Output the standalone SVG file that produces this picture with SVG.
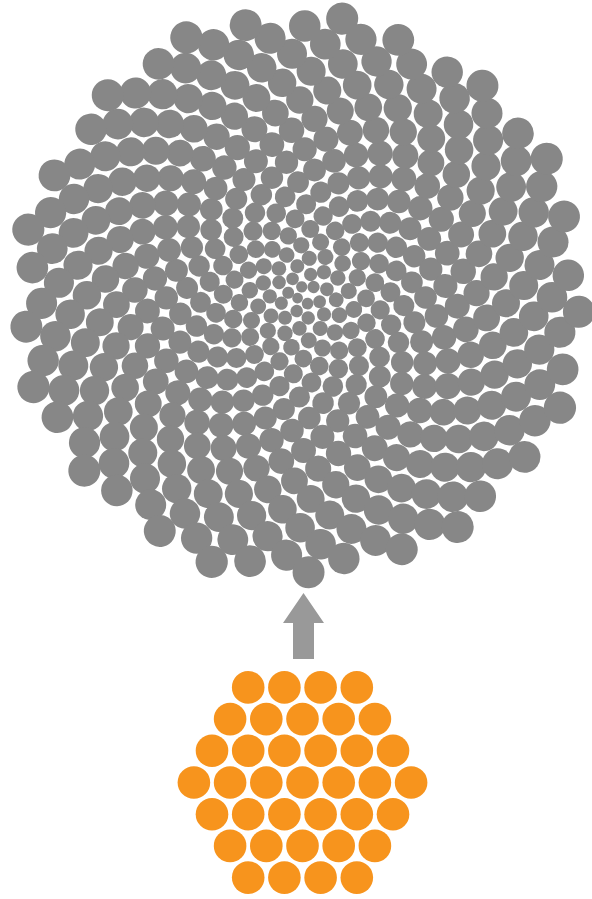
<svg xmlns="http://www.w3.org/2000/svg" width="592" height="899" viewBox="0 0 592 899">
<style>
#spiral circle{fill:#878787;r:calc((5.0 + 0.53 * sqrt(var(--n) - 0.5)) * 1px);transform:rotate(calc(var(--n) * 137.508deg)) translateX(calc((6.3 * sqrt(var(--n) - 0.5) + 0.342 * (var(--n) - 0.5)) * 1px));}
#hexbundle circle{fill:#F7941D;}
.arrow{fill:#999;}
</style>
<rect width="592" height="899" fill="#fff"/>
<g id="spiral" transform="translate(301 295)">
<circle style="--n:1"/><circle style="--n:2"/><circle style="--n:3"/><circle style="--n:4"/><circle style="--n:5"/><circle style="--n:6"/><circle style="--n:7"/><circle style="--n:8"/><circle style="--n:9"/><circle style="--n:10"/>
<circle style="--n:11"/><circle style="--n:12"/><circle style="--n:13"/><circle style="--n:14"/><circle style="--n:15"/><circle style="--n:16"/><circle style="--n:17"/><circle style="--n:18"/><circle style="--n:19"/><circle style="--n:20"/>
<circle style="--n:21"/><circle style="--n:22"/><circle style="--n:23"/><circle style="--n:24"/><circle style="--n:25"/><circle style="--n:26"/><circle style="--n:27"/><circle style="--n:28"/><circle style="--n:29"/><circle style="--n:30"/>
<circle style="--n:31"/><circle style="--n:32"/><circle style="--n:33"/><circle style="--n:34"/><circle style="--n:35"/><circle style="--n:36"/><circle style="--n:37"/><circle style="--n:38"/><circle style="--n:39"/><circle style="--n:40"/>
<circle style="--n:41"/><circle style="--n:42"/><circle style="--n:43"/><circle style="--n:44"/><circle style="--n:45"/><circle style="--n:46"/><circle style="--n:47"/><circle style="--n:48"/><circle style="--n:49"/><circle style="--n:50"/>
<circle style="--n:51"/><circle style="--n:52"/><circle style="--n:53"/><circle style="--n:54"/><circle style="--n:55"/><circle style="--n:56"/><circle style="--n:57"/><circle style="--n:58"/><circle style="--n:59"/><circle style="--n:60"/>
<circle style="--n:61"/><circle style="--n:62"/><circle style="--n:63"/><circle style="--n:64"/><circle style="--n:65"/><circle style="--n:66"/><circle style="--n:67"/><circle style="--n:68"/><circle style="--n:69"/><circle style="--n:70"/>
<circle style="--n:71"/><circle style="--n:72"/><circle style="--n:73"/><circle style="--n:74"/><circle style="--n:75"/><circle style="--n:76"/><circle style="--n:77"/><circle style="--n:78"/><circle style="--n:79"/><circle style="--n:80"/>
<circle style="--n:81"/><circle style="--n:82"/><circle style="--n:83"/><circle style="--n:84"/><circle style="--n:85"/><circle style="--n:86"/><circle style="--n:87"/><circle style="--n:88"/><circle style="--n:89"/><circle style="--n:90"/>
<circle style="--n:91"/><circle style="--n:92"/><circle style="--n:93"/><circle style="--n:94"/><circle style="--n:95"/><circle style="--n:96"/><circle style="--n:97"/><circle style="--n:98"/><circle style="--n:99"/><circle style="--n:100"/>
<circle style="--n:101"/><circle style="--n:102"/><circle style="--n:103"/><circle style="--n:104"/><circle style="--n:105"/><circle style="--n:106"/><circle style="--n:107"/><circle style="--n:108"/><circle style="--n:109"/><circle style="--n:110"/>
<circle style="--n:111"/><circle style="--n:112"/><circle style="--n:113"/><circle style="--n:114"/><circle style="--n:115"/><circle style="--n:116"/><circle style="--n:117"/><circle style="--n:118"/><circle style="--n:119"/><circle style="--n:120"/>
<circle style="--n:121"/><circle style="--n:122"/><circle style="--n:123"/><circle style="--n:124"/><circle style="--n:125"/><circle style="--n:126"/><circle style="--n:127"/><circle style="--n:128"/><circle style="--n:129"/><circle style="--n:130"/>
<circle style="--n:131"/><circle style="--n:132"/><circle style="--n:133"/><circle style="--n:134"/><circle style="--n:135"/><circle style="--n:136"/><circle style="--n:137"/><circle style="--n:138"/><circle style="--n:139"/><circle style="--n:140"/>
<circle style="--n:141"/><circle style="--n:142"/><circle style="--n:143"/><circle style="--n:144"/><circle style="--n:145"/><circle style="--n:146"/><circle style="--n:147"/><circle style="--n:148"/><circle style="--n:149"/><circle style="--n:150"/>
<circle style="--n:151"/><circle style="--n:152"/><circle style="--n:153"/><circle style="--n:154"/><circle style="--n:155"/><circle style="--n:156"/><circle style="--n:157"/><circle style="--n:158"/><circle style="--n:159"/><circle style="--n:160"/>
<circle style="--n:161"/><circle style="--n:162"/><circle style="--n:163"/><circle style="--n:164"/><circle style="--n:165"/><circle style="--n:166"/><circle style="--n:167"/><circle style="--n:168"/><circle style="--n:169"/><circle style="--n:170"/>
<circle style="--n:171"/><circle style="--n:172"/><circle style="--n:173"/><circle style="--n:174"/><circle style="--n:175"/><circle style="--n:176"/><circle style="--n:177"/><circle style="--n:178"/><circle style="--n:179"/><circle style="--n:180"/>
<circle style="--n:181"/><circle style="--n:182"/><circle style="--n:183"/><circle style="--n:184"/><circle style="--n:185"/><circle style="--n:186"/><circle style="--n:187"/><circle style="--n:188"/><circle style="--n:189"/><circle style="--n:190"/>
<circle style="--n:191"/><circle style="--n:192"/><circle style="--n:193"/><circle style="--n:194"/><circle style="--n:195"/><circle style="--n:196"/><circle style="--n:197"/><circle style="--n:198"/><circle style="--n:199"/><circle style="--n:200"/>
<circle style="--n:201"/><circle style="--n:202"/><circle style="--n:203"/><circle style="--n:204"/><circle style="--n:205"/><circle style="--n:206"/><circle style="--n:207"/><circle style="--n:208"/><circle style="--n:209"/><circle style="--n:210"/>
<circle style="--n:211"/><circle style="--n:212"/><circle style="--n:213"/><circle style="--n:214"/><circle style="--n:215"/><circle style="--n:216"/><circle style="--n:217"/><circle style="--n:218"/><circle style="--n:219"/><circle style="--n:220"/>
<circle style="--n:221"/><circle style="--n:222"/><circle style="--n:223"/><circle style="--n:224"/><circle style="--n:225"/><circle style="--n:226"/><circle style="--n:227"/><circle style="--n:228"/><circle style="--n:229"/><circle style="--n:230"/>
<circle style="--n:231"/><circle style="--n:232"/><circle style="--n:233"/><circle style="--n:234"/><circle style="--n:235"/><circle style="--n:236"/><circle style="--n:237"/><circle style="--n:238"/><circle style="--n:239"/><circle style="--n:240"/>
<circle style="--n:241"/><circle style="--n:242"/><circle style="--n:243"/><circle style="--n:244"/><circle style="--n:245"/><circle style="--n:246"/><circle style="--n:247"/><circle style="--n:248"/><circle style="--n:249"/><circle style="--n:250"/>
<circle style="--n:251"/><circle style="--n:252"/><circle style="--n:253"/><circle style="--n:254"/><circle style="--n:255"/><circle style="--n:256"/><circle style="--n:257"/><circle style="--n:258"/><circle style="--n:259"/><circle style="--n:260"/>
<circle style="--n:261"/><circle style="--n:262"/><circle style="--n:263"/><circle style="--n:264"/><circle style="--n:265"/><circle style="--n:266"/><circle style="--n:267"/><circle style="--n:268"/><circle style="--n:269"/><circle style="--n:270"/>
<circle style="--n:271"/><circle style="--n:272"/><circle style="--n:273"/><circle style="--n:274"/><circle style="--n:275"/><circle style="--n:276"/><circle style="--n:277"/><circle style="--n:278"/><circle style="--n:279"/><circle style="--n:280"/>
<circle style="--n:281"/><circle style="--n:282"/><circle style="--n:283"/><circle style="--n:284"/><circle style="--n:285"/><circle style="--n:286"/><circle style="--n:287"/><circle style="--n:288"/><circle style="--n:289"/><circle style="--n:290"/>
<circle style="--n:291"/><circle style="--n:292"/><circle style="--n:293"/><circle style="--n:294"/><circle style="--n:295"/><circle style="--n:296"/><circle style="--n:297"/><circle style="--n:298"/><circle style="--n:299"/><circle style="--n:300"/>
<circle style="--n:301"/><circle style="--n:302"/><circle style="--n:303"/><circle style="--n:304"/><circle style="--n:305"/><circle style="--n:306"/><circle style="--n:307"/><circle style="--n:308"/><circle style="--n:309"/><circle style="--n:310"/>
<circle style="--n:311"/><circle style="--n:312"/><circle style="--n:313"/><circle style="--n:314"/><circle style="--n:315"/><circle style="--n:316"/><circle style="--n:317"/><circle style="--n:318"/><circle style="--n:319"/><circle style="--n:320"/>
<circle style="--n:321"/><circle style="--n:322"/><circle style="--n:323"/><circle style="--n:324"/><circle style="--n:325"/><circle style="--n:326"/><circle style="--n:327"/><circle style="--n:328"/><circle style="--n:329"/><circle style="--n:330"/>
<circle style="--n:331"/><circle style="--n:332"/><circle style="--n:333"/><circle style="--n:334"/><circle style="--n:335"/><circle style="--n:336"/><circle style="--n:337"/><circle style="--n:338"/><circle style="--n:339"/><circle style="--n:340"/>
<circle style="--n:341"/><circle style="--n:342"/><circle style="--n:343"/><circle style="--n:344"/><circle style="--n:345"/><circle style="--n:346"/><circle style="--n:347"/><circle style="--n:348"/><circle style="--n:349"/><circle style="--n:350"/>
<circle style="--n:351"/><circle style="--n:352"/><circle style="--n:353"/><circle style="--n:354"/><circle style="--n:355"/><circle style="--n:356"/><circle style="--n:357"/><circle style="--n:358"/><circle style="--n:359"/><circle style="--n:360"/>
<circle style="--n:361"/><circle style="--n:362"/><circle style="--n:363"/><circle style="--n:364"/><circle style="--n:365"/><circle style="--n:366"/><circle style="--n:367"/><circle style="--n:368"/><circle style="--n:369"/><circle style="--n:370"/>
<circle style="--n:371"/><circle style="--n:372"/><circle style="--n:373"/><circle style="--n:374"/><circle style="--n:375"/><circle style="--n:376"/><circle style="--n:377"/><circle style="--n:378"/><circle style="--n:379"/><circle style="--n:380"/>
<circle style="--n:381"/><circle style="--n:382"/><circle style="--n:383"/><circle style="--n:384"/><circle style="--n:385"/><circle style="--n:386"/><circle style="--n:387"/><circle style="--n:388"/><circle style="--n:389"/><circle style="--n:390"/>
<circle style="--n:391"/><circle style="--n:392"/><circle style="--n:393"/><circle style="--n:394"/><circle style="--n:395"/><circle style="--n:396"/><circle style="--n:397"/><circle style="--n:398"/><circle style="--n:399"/><circle style="--n:400"/>
<circle style="--n:401"/><circle style="--n:402"/><circle style="--n:403"/><circle style="--n:404"/><circle style="--n:405"/><circle style="--n:406"/><circle style="--n:407"/><circle style="--n:408"/><circle style="--n:409"/><circle style="--n:410"/>
<circle style="--n:411"/><circle style="--n:412"/><circle style="--n:413"/><circle style="--n:414"/><circle style="--n:415"/><circle style="--n:416"/><circle style="--n:417"/><circle style="--n:418"/><circle style="--n:419"/><circle style="--n:420"/>
<circle style="--n:421"/><circle style="--n:422"/><circle style="--n:423"/><circle style="--n:424"/><circle style="--n:425"/><circle style="--n:426"/><circle style="--n:427"/><circle style="--n:428"/><circle style="--n:429"/><circle style="--n:430"/>
<circle style="--n:431"/><circle style="--n:432"/><circle style="--n:433"/><circle style="--n:434"/><circle style="--n:435"/><circle style="--n:436"/><circle style="--n:437"/><circle style="--n:438"/><circle style="--n:439"/><circle style="--n:440"/>
<circle style="--n:441"/>
</g>
<g id="connectors">
<path class="arrow" d="M303.5,593 L324,623 L314,623 L314,659 L293,659 L293,623 L283,623 Z"/>
</g>
<g id="hexbundle">
<g id="hex-row1"><circle cx="248.2" cy="687.4" r="16.3"/><circle cx="284.4" cy="687.4" r="16.3"/><circle cx="320.6" cy="687.4" r="16.3"/><circle cx="356.8" cy="687.4" r="16.3"/></g>
<g id="hex-row2"><circle cx="230.1" cy="719.1" r="16.3"/><circle cx="266.3" cy="719.1" r="16.3"/><circle cx="302.5" cy="719.1" r="16.3"/><circle cx="338.7" cy="719.1" r="16.3"/><circle cx="374.9" cy="719.1" r="16.3"/></g>
<g id="hex-row3"><circle cx="212" cy="750.8" r="16.3"/><circle cx="248.2" cy="750.8" r="16.3"/><circle cx="284.4" cy="750.8" r="16.3"/><circle cx="320.6" cy="750.8" r="16.3"/><circle cx="356.8" cy="750.8" r="16.3"/><circle cx="393" cy="750.8" r="16.3"/></g>
<g id="hex-row4"><circle cx="193.9" cy="782.5" r="16.3"/><circle cx="230.1" cy="782.5" r="16.3"/><circle cx="266.3" cy="782.5" r="16.3"/><circle cx="302.5" cy="782.5" r="16.3"/><circle cx="338.7" cy="782.5" r="16.3"/><circle cx="374.9" cy="782.5" r="16.3"/><circle cx="411.1" cy="782.5" r="16.3"/></g>
<g id="hex-row5"><circle cx="212" cy="814.2" r="16.3"/><circle cx="248.2" cy="814.2" r="16.3"/><circle cx="284.4" cy="814.2" r="16.3"/><circle cx="320.6" cy="814.2" r="16.3"/><circle cx="356.8" cy="814.2" r="16.3"/><circle cx="393" cy="814.2" r="16.3"/></g>
<g id="hex-row6"><circle cx="230.1" cy="845.9" r="16.3"/><circle cx="266.3" cy="845.9" r="16.3"/><circle cx="302.5" cy="845.9" r="16.3"/><circle cx="338.7" cy="845.9" r="16.3"/><circle cx="374.9" cy="845.9" r="16.3"/></g>
<g id="hex-row7"><circle cx="248.2" cy="877.6" r="16.3"/><circle cx="284.4" cy="877.6" r="16.3"/><circle cx="320.6" cy="877.6" r="16.3"/><circle cx="356.8" cy="877.6" r="16.3"/></g>
</g>
</svg>
